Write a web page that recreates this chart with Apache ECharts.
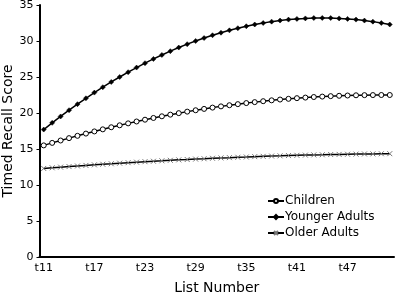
<!DOCTYPE html>
<html>
<head>
<meta charset="utf-8">
<script src="https://cdn.jsdelivr.net/npm/echarts@6/dist/echarts.min.js"></script>
<style>
  html, body { margin: 0; padding: 0; background: #fff; }
  #chart { width: 397px; height: 297px; }
</style>
</head>
<body>
<div id="chart"></div>
<script>
const lists = ['t11','t12','t13','t14','t15','t16','t17','t18','t19','t20','t21','t22','t23','t24',
  't25','t26','t27','t28','t29','t30','t31','t32','t33','t34','t35','t36','t37','t38',
  't39','t40','t41','t42','t43','t44','t45','t46','t47','t48','t49','t50','t51','t52'];

const children = [15.5,15.85,16.18,16.51,16.83,17.14,17.44,17.73,18.02,18.29,18.56,18.82,19.07,19.31,
  19.54,19.77,19.98,20.19,20.38,20.57,20.75,20.92,21.08,21.23,21.38,21.51,21.64,21.76,
  21.87,21.97,22.06,22.14,22.22,22.28,22.34,22.39,22.43,22.46,22.48,22.49,22.5,22.5];

const youngerAdults = [17.7,18.63,19.52,20.39,21.23,22.04,22.83,23.58,24.31,25.0,25.67,26.31,26.92,27.51,
  28.06,28.59,29.09,29.56,30.0,30.41,30.8,31.15,31.48,31.78,32.05,32.29,32.5,32.69,
  32.84,32.97,33.07,33.14,33.19,33.2,33.19,33.14,33.07,32.97,32.84,32.69,32.5,32.29];

const olderAdults = [12.3,12.39,12.48,12.56,12.64,12.72,12.8,12.88,12.95,13.03,13.1,13.17,13.24,13.3,
  13.36,13.43,13.49,13.54,13.6,13.65,13.71,13.76,13.8,13.85,13.89,13.94,13.98,14.02,
  14.05,14.09,14.12,14.15,14.18,14.2,14.23,14.25,14.27,14.29,14.31,14.32,14.34,14.35];

const font = 'DejaVu Sans, Verdana, sans-serif';
const chart = echarts.init(document.getElementById('chart'));

chart.setOption({
  animation: false,
  grid: { left: 39.5, right: 3, top: 5, bottom: 40, outerBoundsMode: 'none' },
  legend: {
    orient: 'vertical',
    left: 262,
    top: 190,
    itemWidth: 16,
    itemHeight: 5,
    itemGap: 4,
    textStyle: { fontFamily: font, fontSize: 12, color: '#000', padding: [0, 0, 0, -4] },
    data: ['Children', 'Younger Adults', 'Older Adults']
  },
  xAxis: {
    type: 'category',
    data: lists,
    boundaryGap: true,
    name: 'List Number',
    nameLocation: 'middle',
    nameMoveOverlap: false,
    nameGap: 24,
    nameTextStyle: { fontFamily: font, fontSize: 14, color: '#000' },
    axisLine: { lineStyle: { color: '#000', width: 2 } },
    axisTick: { interval: 5, length: 4, lineStyle: { color: '#000', width: 1.5 } },
    axisLabel: { interval: 5, fontFamily: font, fontSize: 11, color: '#000', margin: 6 },
    splitLine: { show: false }
  },
  yAxis: {
    type: 'value',
    min: 0,
    max: 35,
    interval: 5,
    name: 'Timed Recall Score',
    nameLocation: 'middle',
    nameMoveOverlap: false,
    nameGap: 24,
    nameTextStyle: { fontFamily: font, fontSize: 14, color: '#000' },
    axisLine: { show: true, lineStyle: { color: '#000', width: 2 } },
    axisTick: { show: true, length: 3, lineStyle: { color: '#000' } },
    axisLabel: { fontFamily: font, fontSize: 11, color: '#000', margin: 6 },
    splitLine: { show: false }
  },
  series: [
    {
      name: 'Children',
      type: 'line',
      data: children,
      showAllSymbol: true,
      symbol: 'circle',
      symbolSize: 5,
      lineStyle: { color: '#000', width: 1.5 },
      itemStyle: { color: '#fff', borderColor: '#000', borderWidth: 1 }
    },
    {
      name: 'Younger Adults',
      type: 'line',
      data: youngerAdults,
      showAllSymbol: true,
      symbol: 'diamond',
      symbolSize: 5,
      lineStyle: { color: '#000', width: 1.5 },
      itemStyle: { color: '#000', borderColor: '#000', borderWidth: 0.5 }
    },
    {
      name: 'Older Adults',
      type: 'line',
      data: olderAdults,
      showAllSymbol: true,
      symbol: 'path://M0,0L10,10M10,0L0,10',
      symbolSize: 5,
      lineStyle: { color: '#000', width: 1.5 },
      itemStyle: { color: 'none', borderColor: '#777', borderWidth: 1 }
    }
  ]
});
</script>
</body>
</html>
